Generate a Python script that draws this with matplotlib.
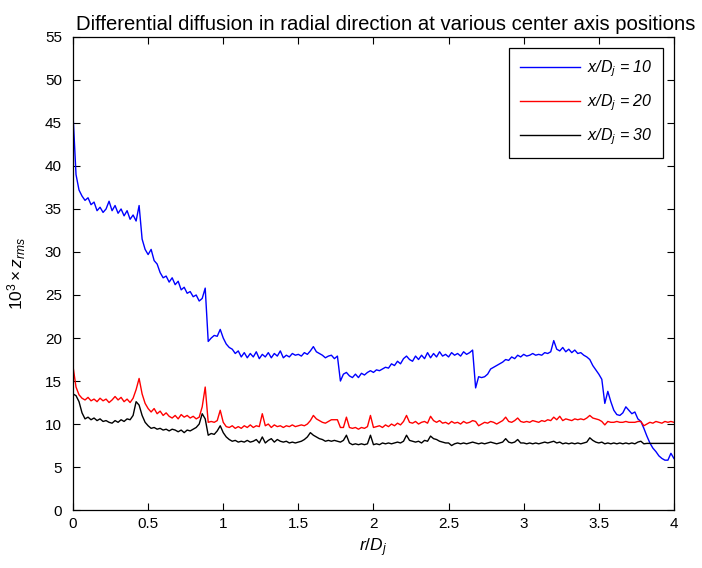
import matplotlib
matplotlib.use("Agg")
import matplotlib.pyplot as plt
import numpy as np

plt.rcParams['font.family'] = ['Liberation Sans', 'DejaVu Sans']
plt.rcParams['mathtext.fontset'] = 'custom'
plt.rcParams['mathtext.rm'] = 'Liberation Sans'
plt.rcParams['mathtext.it'] = 'Liberation Sans:italic'

# radial positions r/D_j (step 0.02)
r = np.round(np.arange(0, 201) * 0.02, 2)

# x/D_j = 10
z_10 = [
    46.0, 39.0, 37.2, 36.5, 36.0, 36.3, 35.5, 35.8, 34.8, 35.2,
    34.6, 35.0, 35.9, 34.8, 35.4, 34.5, 35.0, 34.2, 34.8, 33.8,
    34.3, 33.6, 35.4, 31.5, 30.3, 29.7, 30.3, 29.0, 28.6, 27.6,
    27.0, 27.2, 26.5, 27.0, 26.2, 26.6, 25.6, 25.9, 25.2, 25.4,
    24.8, 25.0, 24.3, 24.6, 25.8, 19.6, 20.0, 20.3, 20.2, 21.0,
    20.0, 19.3, 18.9, 18.7, 18.2, 18.5, 17.8, 18.3, 17.7, 18.2,
    17.8, 18.4, 17.6, 18.1, 17.8, 18.3, 17.7, 18.2, 17.9, 18.5,
    17.7, 18.0, 17.8, 18.2, 18.0, 18.1, 17.9, 18.3, 18.1, 18.5,
    19.0, 18.4, 18.2, 18.0, 17.7, 17.9, 18.0, 17.6, 17.9, 15.0,
    15.8, 16.0, 15.6, 15.4, 15.8, 15.4, 15.9, 15.7, 16.0, 16.2,
    16.0, 16.3, 16.2, 16.4, 16.6, 16.5, 17.0, 16.8, 17.3, 17.0,
    17.6, 17.9, 17.5, 17.3, 17.9, 17.5, 18.0, 17.6, 18.3, 17.7,
    18.2, 17.8, 18.4, 17.9, 18.1, 17.8, 18.3, 18.0, 18.2, 17.9,
    18.4, 18.1, 18.3, 18.6, 14.2, 15.5, 15.4, 15.5, 15.8, 16.4,
    16.6, 16.8, 17.0, 17.2, 17.5, 17.4, 17.8, 17.6, 18.0, 17.8,
    18.1, 17.9, 18.0, 18.2, 18.0, 18.1, 18.0, 18.3, 18.2, 18.4,
    19.7, 18.7, 18.5, 18.9, 18.4, 18.7, 18.3, 18.6, 18.2, 18.3,
    18.0, 17.8, 17.5, 16.8, 16.3, 15.8, 15.2, 12.4, 13.8, 12.6,
    11.6, 11.1, 11.0, 11.3, 12.0, 11.6, 11.2, 11.4, 10.6, 10.3,
    9.5, 8.6, 7.8, 7.2, 6.8, 6.3, 6.0, 5.8, 5.8, 6.6,
    6.0,
]

# x/D_j = 20
z_20 = [
    16.7, 14.3, 13.4, 13.0, 12.8, 13.1, 12.7, 12.9, 12.6, 13.0,
    12.7, 12.9, 12.5, 12.8, 13.2, 12.8, 13.1, 12.6, 12.9, 12.5,
    13.0, 14.0, 15.3, 13.5, 12.4, 11.8, 11.4, 11.8, 11.2, 11.5,
    11.0, 11.3, 10.9, 10.7, 11.0, 10.6, 11.1, 10.8, 11.0, 10.7,
    10.9, 10.6, 10.8, 12.0, 14.3, 10.2, 10.3, 10.2, 10.4, 11.6,
    10.2, 9.7, 9.6, 9.8, 9.5, 9.7, 9.5, 9.8, 9.6, 9.9,
    9.6, 9.8, 9.7, 11.2, 9.8, 10.0, 9.6, 9.9, 9.7, 9.8,
    9.6, 9.8, 9.7, 9.9, 9.7, 9.8, 9.9, 9.8, 10.0, 10.4,
    11.0, 10.6, 10.4, 10.2, 10.1, 10.3, 10.5, 10.5, 10.5, 9.6,
    9.6, 10.8, 9.6, 9.5, 9.6, 9.4, 9.6, 9.5, 9.7, 11.0,
    9.6, 9.7, 9.8, 9.6, 9.9, 9.7, 10.0, 9.8, 10.1, 9.9,
    10.3, 11.0, 10.2, 10.1, 10.3, 10.0, 10.2, 10.3, 10.1, 10.9,
    10.4, 10.2, 10.4, 10.1, 10.2, 10.0, 10.3, 10.1, 10.2, 10.0,
    10.3, 10.1, 10.2, 10.4, 10.3, 9.8, 10.0, 10.2, 10.1, 10.3,
    10.2, 10.0, 10.2, 10.4, 10.8, 10.3, 10.2, 10.4, 10.7, 10.3,
    10.2, 10.3, 10.2, 10.4, 10.3, 10.2, 10.4, 10.3, 10.5, 10.4,
    10.8, 10.5, 10.9, 10.4, 10.6, 10.5, 10.4, 10.6, 10.5, 10.6,
    10.5, 10.7, 11.0, 10.7, 10.6, 10.5, 10.3, 9.9, 10.3, 10.2,
    10.2, 10.3, 10.2, 10.2, 10.3, 10.2, 10.2, 10.2, 10.3, 10.3,
    9.8, 10.0, 10.2, 10.1, 10.3, 10.2, 10.1, 10.3, 10.2, 10.3,
    10.2,
]

# x/D_j = 30
z_30 = [
    13.5, 13.3, 12.6, 11.3, 10.6, 10.8, 10.5, 10.7, 10.4, 10.6,
    10.3, 10.4, 10.2, 10.1, 10.4, 10.2, 10.5, 10.3, 10.6, 10.5,
    11.0, 12.6, 12.2, 11.0, 10.2, 9.8, 9.5, 9.6, 9.4, 9.5,
    9.3, 9.4, 9.2, 9.4, 9.3, 9.1, 9.3, 9.0, 9.3, 9.2,
    9.4, 9.6, 10.0, 11.2, 10.6, 8.7, 8.9, 8.8, 9.2, 9.8,
    9.0, 8.5, 8.2, 8.0, 8.1, 7.9, 8.0, 7.9, 8.1, 7.9,
    8.0, 8.2, 7.8, 8.5, 7.8, 8.1, 8.3, 7.9, 8.2, 8.0,
    7.9, 8.0, 7.8, 7.9, 7.8, 7.9, 8.0, 8.2, 8.5, 9.0,
    8.7, 8.5, 8.3, 8.2, 8.0, 8.1, 8.0, 8.1, 8.0, 7.9,
    8.1, 8.7, 7.8, 7.6, 7.7, 7.6, 7.7, 7.6, 7.7, 8.7,
    7.6, 7.7, 7.6, 7.8, 7.7, 7.8, 7.7, 7.8, 7.9, 7.8,
    8.0, 8.7, 8.1, 8.0, 7.9, 8.0, 7.8, 8.1, 8.0, 8.6,
    8.3, 8.2, 8.0, 7.9, 7.8, 7.8, 7.5, 7.7, 7.8, 7.7,
    7.8, 7.7, 7.8, 7.9, 7.8, 7.7, 7.8, 7.7, 7.8, 7.9,
    7.8, 7.7, 7.8, 7.9, 8.3, 7.9, 7.8, 7.9, 8.2, 7.8,
    7.8, 7.7, 7.8, 7.7, 7.8, 7.7, 7.8, 7.9, 7.8, 7.9,
    8.0, 7.8, 7.9, 7.7, 7.8, 7.7, 7.8, 7.7, 7.8, 7.7,
    7.8, 7.9, 8.4, 8.1, 7.9, 7.8, 7.9, 7.7, 7.8, 7.7,
    7.8, 7.7, 7.8, 7.7, 7.8, 7.7, 7.8, 7.7, 7.9, 8.0,
    7.7, 7.75, 7.75, 7.75, 7.75, 7.75, 7.75, 7.75, 7.75, 7.75,
    7.75,
]

labels = ['x/D$_j$ = 10', 'x/D$_j$ = 20', 'x/D$_j$ = 30']
colors = ['#0000ff', '#ff0000', '#000000']

fig = plt.figure(figsize=(7.02, 5.68), dpi=100)
ax = fig.add_axes([0.104, 0.102, 0.856, 0.833])

for z, lab, c in zip([z_10, z_20, z_30], labels, colors):
    ax.plot(r, z, color=c, lw=1.0, label=lab)

ax.set_xlim(0, 4)
ax.set_ylim(0, 55)
ax.set_xticks(np.arange(0, 4.01, 0.5))
ax.set_xticklabels(['0', '0.5', '1', '1.5', '2', '2.5', '3', '3.5', '4'])
ax.set_yticks(np.arange(0, 56, 5))
ax.tick_params(direction='in', top=True, right=True, length=5, labelsize=11)
ax.tick_params(axis='y', pad=8)
ax.tick_params(axis='x', pad=5)
for s in ax.spines.values():
    s.set_linewidth(0.9)

ax.set_title('Differential diffusion in radial direction at various center axis positions',
             fontsize=14.6, pad=5, x=0.52)
ax.set_xlabel(r'$r/D_j$', fontsize=12.5, labelpad=4)
ax.set_ylabel(r'$10^3 \times z_{rms}$', fontsize=12.5, labelpad=12)

leg = ax.legend(loc='upper right', fancybox=False, framealpha=1, edgecolor='black',
                prop={'style': 'italic', 'size': 11.5}, handlelength=3.8,
                handletextpad=0.4, borderaxespad=0.7, labelspacing=0.85,
                borderpad=0.65)
leg.get_frame().set_linewidth(0.9)

fig.savefig('out.png', dpi=100)
